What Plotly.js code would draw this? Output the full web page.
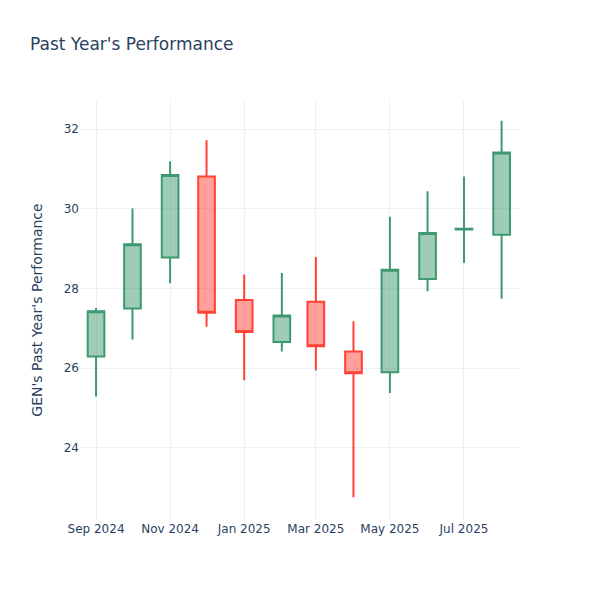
<!DOCTYPE html>
<html>
<head>
<meta charset="utf-8">
<script src="https://cdn.plot.ly/plotly-3.0.1.min.js"></script>
<style>html,body{margin:0;padding:0;background:#fff;}#chart{width:600px;height:600px;}</style>
</head>
<body>
<div id="chart"></div>
<script>
const dates = ['2024-09-01','2024-10-01','2024-11-01','2024-12-01','2025-01-01','2025-02-01',
               '2025-03-01','2025-04-01','2025-05-01','2025-06-01','2025-07-01','2025-08-01'];
const openVals  = [26.29, 27.50, 28.78, 30.81, 27.71, 26.66, 27.67, 26.42, 25.90, 28.24, 29.48, 29.35];
const highVals  = [27.51, 30.01, 31.19, 31.72, 28.35, 28.39, 28.79, 27.18, 29.80, 30.44, 30.81, 32.21];
const lowVals   = [25.29, 26.72, 28.13, 27.04, 25.70, 26.42, 25.94, 22.76, 25.38, 27.93, 28.64, 27.74];
const closeVals = [27.43, 29.11, 30.85, 27.39, 26.91, 27.32, 26.55, 25.87, 28.47, 29.39, 29.50, 31.41];

const trace = {
  type: 'candlestick',
  x: dates,
  open: openVals,
  high: highVals,
  low: lowVals,
  close: closeVals,
  increasing: {line: {color: '#3D9970'}},
  decreasing: {line: {color: '#FF4136'}},
  showlegend: false
};

const layout = {
  width: 600,
  height: 600,
  margin: {l: 80, r: 80, t: 100, b: 80},
  paper_bgcolor: '#ffffff',
  plot_bgcolor: '#ffffff',
  font: {family: 'DejaVu Sans, Verdana, sans-serif', color: '#2a3f5f', size: 12},
  title: {text: "Past Year's Performance", x: 0.05, xanchor: 'left', font: {size: 17, color: '#2a3f5f'}},
  xaxis: {
    type: 'date',
    range: ['2024-08-18 19:00', '2025-08-16 03:00'],
    rangeslider: {visible: false},
    gridcolor: '#EBF0F8',
    zeroline: false,
    showline: false,
    ticks: '',
    dtick: 'M2',
    tick0: '2024-09-01',
    tickformat: '%b %Y'
  },
  yaxis: {
    title: {text: "GEN's Past Year's Performance", font: {size: 14}},
    range: [22.19, 32.73],
    gridcolor: '#EBF0F8',
    zeroline: false,
    showline: false,
    ticks: '',
    dtick: 2
  }
};

Plotly.newPlot('chart', [trace], layout, {displayModeBar: false, staticPlot: true});
</script>
</body>
</html>
